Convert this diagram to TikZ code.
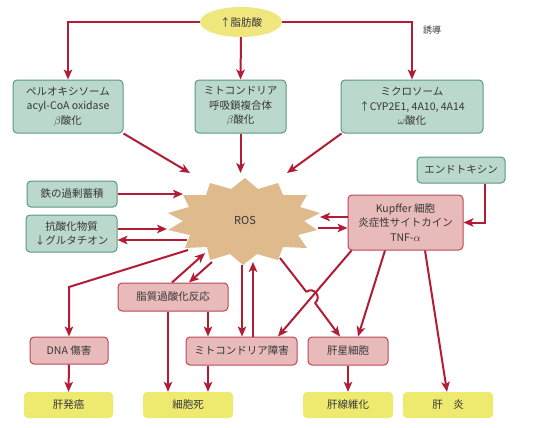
\documentclass[tikz,border=0pt]{standalone}
\usepackage{fontspec}
\setmainfont{Noto Sans CJK JP}
\usetikzlibrary{arrows.meta,calc,shapes.geometric}
\definecolor{tealfill}{RGB}{186,216,204}
\definecolor{tealdraw}{RGB}{92,152,136}
\definecolor{pinkfill}{RGB}{232,186,186}
\definecolor{pinkdraw}{RGB}{186,72,92}
\definecolor{yelfill}{RGB}{238,234,112}
\definecolor{ellfill}{RGB}{240,230,126}
\definecolor{starfill}{RGB}{222,186,140}
\definecolor{linered}{RGB}{178,28,52}
\definecolor{txt}{RGB}{55,55,55}
\begin{document}
\begin{tikzpicture}[x=1pt,y=-1pt,
  every node/.style={text=txt, font=\fontsize{10.5}{14.5}\selectfont, align=center, inner sep=0pt},
  tealbox/.style={rounded corners=4pt, draw=tealdraw, fill=tealfill, line width=1pt},
  pinkbox/.style={rounded corners=4pt, draw=pinkdraw, fill=pinkfill, line width=1pt},
  yelbox/.style={rounded corners=4pt, fill=yelfill, minimum width=90pt, minimum height=26pt},
  arr/.style={draw=linered, line width=2pt, -{Stealth[length=10pt,width=8.5pt,inset=2.5pt]}},
  plain/.style={draw=linered, line width=2pt}
]
\useasboundingbox (0,0) rectangle (535,428);
\fill[white] (0,0) rectangle (535,428);

% top ellipse
\node[ellipse, fill=ellfill, minimum width=82pt, minimum height=30pt] (fa) at (241,22) {↑脂肪酸};

% first row
\node[tealbox, minimum width=110pt, minimum height=53pt] (pero) at (68,106.5)
  {ペルオキシソーム\\acyl-CoA oxidase\\$\beta$酸化};
\node[tealbox, minimum width=91pt, minimum height=53pt] (mito) at (240.5,106.5)
  {ミトコンドリア\\呼吸鎖複合体\\$\beta$酸化};
\node[tealbox, minimum width=142pt, minimum height=53pt] (micro) at (412,106.5)
  {ミクロソーム\\↑CYP2E1, 4A10, 4A14\\$\omega$酸化};
\node (induce) at (432,30) {\fontsize{9}{11}\selectfont 誘導};

% left boxes
\node[tealbox, minimum width=90pt, minimum height=26pt] (iron) at (72,194) {鉄の過剰蓄積};
\node[tealbox, minimum width=91pt, minimum height=37pt] (anti) at (71.5,233.5) {抗酸化物質\\↓グルタチオン};

% right boxes
\node[tealbox, minimum width=88pt, minimum height=26pt] (endo) at (461,170) {エンドトキシン};
\node[pinkbox, minimum width=115pt, minimum height=55pt] (kup) at (405.5,222.5)
  {Kupffer 細胞\\炎症性サイトカイン\\TNF-$\alpha$};

% ROS star
\fill[starfill] (245,178) -- (258,189) -- (278,183) -- (283,195) -- (307,195) -- (300,207)
  -- (320,213) -- (304,221) -- (317,230) -- (298,235) -- (307,248) -- (283,247)
  -- (278,260) -- (257,254) -- (243,265) -- (230,254) -- (210,260) -- (207,247)
  -- (185,248) -- (190,235) -- (168,230) -- (183,221) -- (168,213) -- (189,207)
  -- (183,195) -- (206,195) -- (210,183) -- (231,189) -- cycle;
\node[font=\fontsize{11}{13}\selectfont] (ros) at (245,220) {ROS};

% middle boxes
\node[pinkbox, minimum width=110pt, minimum height=28pt] (lipid) at (173,297) {脂質過酸化反応};
\node[pinkbox, minimum width=78pt, minimum height=27pt] (dna) at (69,350.5) {DNA 傷害};
\node[pinkbox, minimum width=111pt, minimum height=28pt] (mitod) at (241.5,351) {ミトコンドリア障害};
\node[pinkbox, minimum width=80pt, minimum height=28pt] (stel) at (348,351) {肝星細胞};

% bottom outcomes
\node[yelbox, minimum width=89pt] (cancer) at (68.5,405) {肝発癌};
\node[yelbox] (death) at (188,405) {細胞死};
\node[yelbox] (fib) at (348,405) {肝線維化};
\node[yelbox] (hep) at (448,405) {肝\quad 炎};

% ROS boundary coordinates
\coordinate (r1) at (190,173);
\coordinate (r2) at (240.5,173);
\coordinate (r3) at (287,173);
\coordinate (r4) at (183,194);
\coordinate (r5) at (167,229);
\coordinate (r6) at (187,240);
\coordinate (r7) at (188,250);
\coordinate (r8) at (205,253);
\coordinate (r9) at (212,262);
\coordinate (r10) at (242,265);
\coordinate (r11) at (253,262);
\coordinate (r12) at (280,258);
\coordinate (r13) at (320,217);
\coordinate (r14) at (318,228);
\coordinate (dnabend) at (69,287);
\coordinate (hopA) at (306.4,291.9);
\coordinate (hopB) at (315.0,302.9);

% top connectors
\draw[arr] (fa.west) -| (pero.north);
\draw[arr] (fa.south) -- (mito.north);
\draw[arr] (fa.east) -| (micro.north);

% into ROS
\draw[arr] (pero.south east) -- (r1);
\draw[arr] (mito.south) -- (r2);
\draw[arr] ($(micro.south west)+(1,0)$) -- (r3);
\draw[arr] (iron.east) -- (r4);
\draw[arr] ($(anti.east)+(0,-4.5)$) -- (r5);
\draw[arr] (r6) -- ($(anti.east)+(0,6.5)$);

% ROS to DNA
\draw[arr] (r7) -- (dnabend) -- (dna.north);
\draw[arr] (dna.south) -- (cancer.north);

% lipid
\draw[arr] ($(lipid.north)+(-1,0)$) -- (r8);
\draw[arr] (r9) -- ($(lipid.north)+(16,0)$);
\draw[arr] ($(lipid.south)+(-5,0)$) -- ($(death.north)+(-20,0)$);
\draw[arr] ($(lipid.south)+(35,0)$) -- ($(mitod.north)+(-33.5,0)$);
\draw[arr] ($(mitod.south)+(-33.5,0)$) -- ($(death.north)+(20,0)$);

% ROS <-> mito damage
\draw[arr] (r10) -- ($(mitod.north)+(0.5,0)$);
\draw[arr] ($(mitod.north)+(11.5,0)$) -- (r11);

% ROS -> stellate with hop
\draw[plain] (r12) -- (hopA);
\draw[plain] (hopA) .. controls (313.7,286.2) and (322.3,297.2) .. (hopB);
\draw[arr] (hopB) -- ($(stel.north)+(-8,0)$);

% Kupffer connectors
\draw[arr] ($(kup.south west)+(4,0)$) -- ($(mitod.north)+(36.5,0)$);
\draw[arr] ($(kup.south)+(-20.5,0)$) -- ($(stel.north)+(10,0)$);
\draw[arr] ($(kup.south)+(19.5,0)$) -- ($(hep.north)+(-1,0)$);
\draw[arr] ($(kup.west)+(0,-5.5)$) -- (r13);
\draw[arr] (r14) -- ($(kup.west)+(0,5.5)$);
\draw[arr] ($(endo.south)+(24,0)$) |- (kup.east);

\draw[arr] (stel.south) -- (fib.north);
\end{tikzpicture}
\end{document}
